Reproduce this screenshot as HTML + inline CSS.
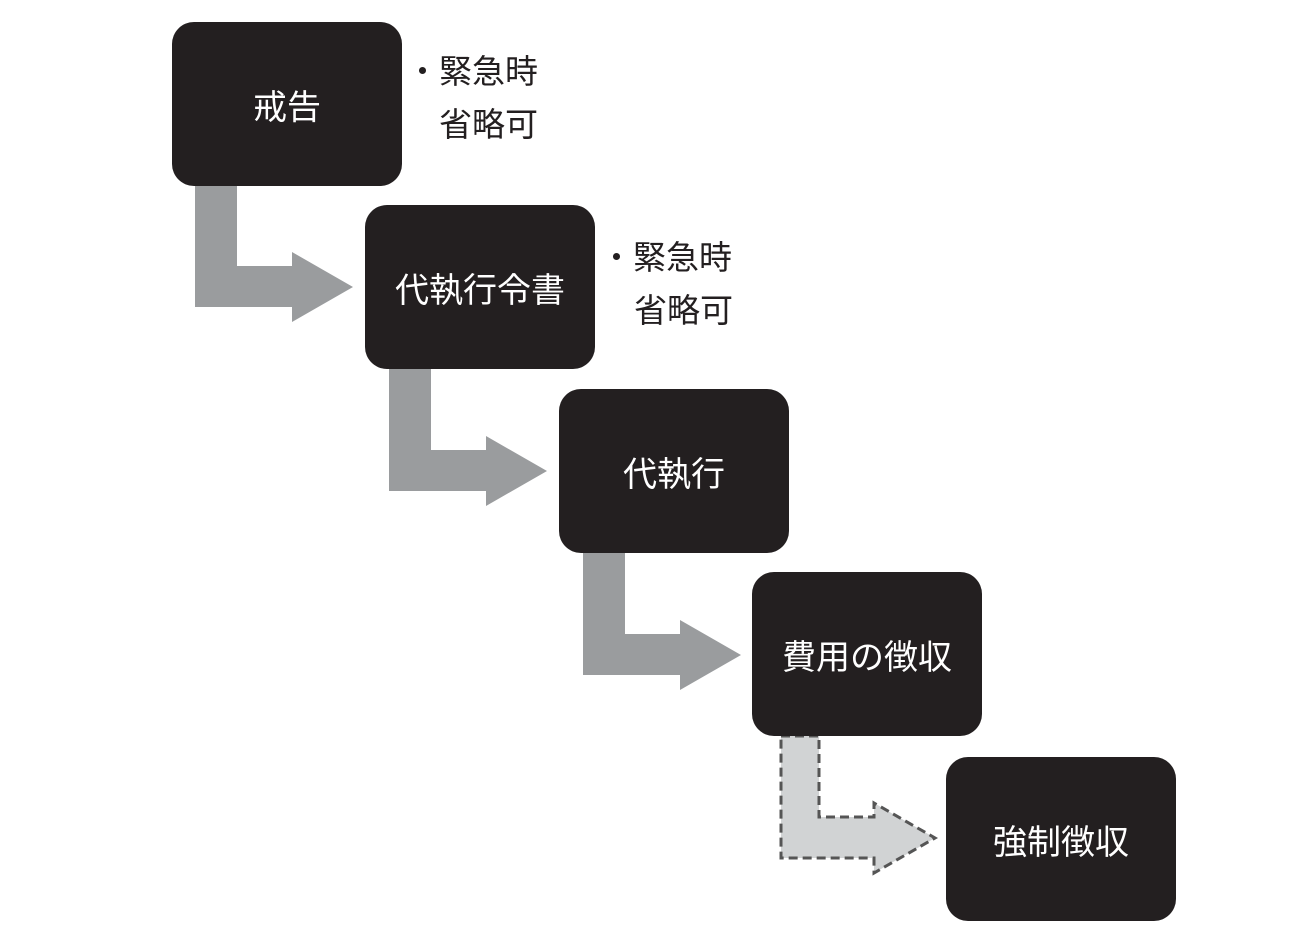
<!DOCTYPE html>
<html><head><meta charset="utf-8"><style>
body{margin:0;width:1300px;height:941px;background:#fff;position:relative;overflow:hidden;font-family:"Liberation Sans","Noto Sans CJK JP",sans-serif}
.b{position:absolute;width:230px;height:164px;background:#231f20;border-radius:22px;color:#fff;font-size:34px;display:flex;align-items:center;justify-content:center}
.n{position:absolute;font-size:33px;color:#231f20;line-height:53px;white-space:nowrap}
svg{position:absolute;left:0;top:0}
</style></head><body>
<svg width="1300" height="941">
<g fill="#9a9c9e">
<polygon points="195,185 237,185 237,266 292,266 292,252 353,287 292,322 292,307 195,307"/>
<polygon transform="translate(194,184)" points="195,185 237,185 237,266 292,266 292,252 353,287 292,322 292,307 195,307"/>
<polygon transform="translate(388,368)" points="195,185 237,185 237,266 292,266 292,252 353,287 292,322 292,307 195,307"/>
</g>
<polygon transform="translate(582,551)" fill="#d1d3d4" stroke="#555" stroke-width="3" stroke-dasharray="9,5" points="199,185 237,185 237,266 292,266 292,252 353,287 292,322 292,307 199,307"/>
</svg>
<div class="b" style="left:172px;top:22px">戒告</div>
<div class="b" style="left:365px;top:205px">代執行令書</div>
<div class="b" style="left:559px;top:389px">代執行</div>
<div class="b" style="left:752px;top:572px">費用の徴収</div>
<div class="b" style="left:946px;top:757px">強制徴収</div>
<div class="n" style="left:406px;top:45px">・緊急時</div>
<div class="n" style="left:439px;top:98px">省略可</div>
<div class="n" style="left:600px;top:231px">・緊急時</div>
<div class="n" style="left:634px;top:284px">省略可</div>
</body></html>
